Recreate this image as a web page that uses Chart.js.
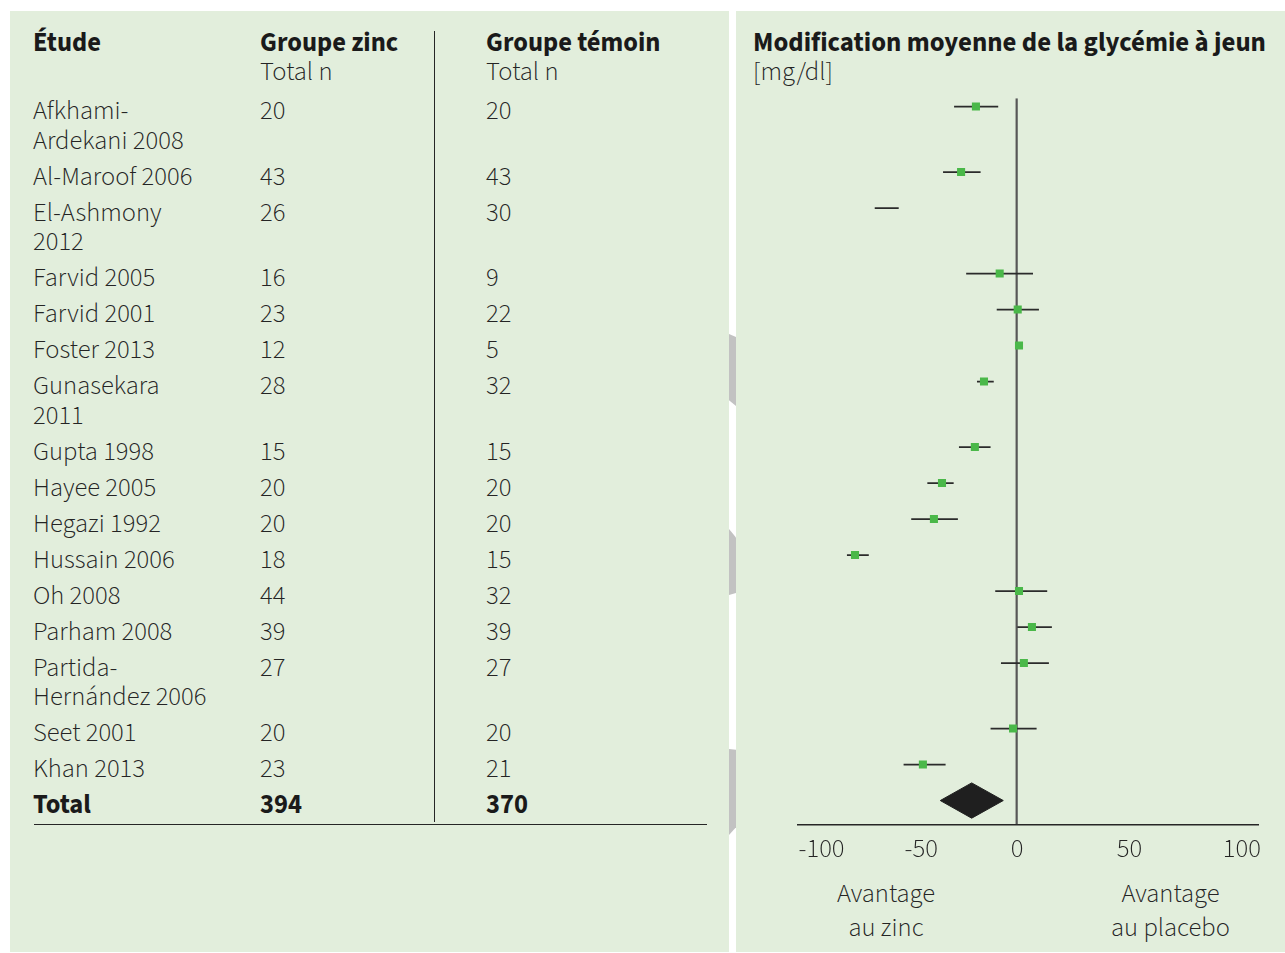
<!DOCTYPE html>
<html lang="fr">
<head>
<meta charset="utf-8">
<title>Zinc et glycémie à jeun</title>
<script src="https://cdn.jsdelivr.net/npm/chart.js@4.4.1/dist/chart.umd.min.js"></script>
<style>
  html, body { margin: 0; padding: 0; background: #ffffff; }
  body { width: 1285px; height: 953px; position: relative; overflow: hidden;
         font-family: 'Source Sans 3', 'Lato', sans-serif; color: #242424; }
  .panel { position: absolute; background: #e2eedc; }
  .txt { position: absolute; white-space: pre; font-size: 26.5px; line-height: 29.5px; font-weight: 300; }
  .b { font-weight: 700; color: #1a1a1a; }
  .rule { position: absolute; background: #262626; }
  .edge { position: absolute; background: #c2c2c2; }
  #plot { position: absolute; left: 736px; top: 0; }
</style>
</head>
<body>
<div class="panel" style="left:10px; top:11px; width:718.5px; height:941px;"></div>
<div class="panel" style="left:736px; top:11px; width:549px; height:941px;"></div>

<!-- page-edge tabs showing through the gutter -->
<div class="edge" style="left:729px; top:334px; width:7px; height:72px; clip-path: polygon(0 0, 100% 4%, 100% 100%, 0 92%);"></div>
<div class="edge" style="left:729px; top:529px; width:7px; height:66px; clip-path: polygon(0 0, 100% 13%, 100% 97%, 0 100%);"></div>
<div class="edge" style="left:729px; top:749px; width:7px; height:86px; clip-path: polygon(0 0, 100% 1%, 100% 91%, 0 100%);"></div>

<div id="table"></div>
<canvas id="plot" width="549" height="953"></canvas>

<script>
// ---- Data -------------------------------------------------------------
const studyLabels = [
  ['Afkhami-', 'Ardekani 2008'],
  ['Al-Maroof 2006'],
  ['El-Ashmony', '2012'],
  ['Farvid 2005'],
  ['Farvid 2001'],
  ['Foster 2013'],
  ['Gunasekara', '2011'],
  ['Gupta 1998'],
  ['Hayee 2005'],
  ['Hegazi 1992'],
  ['Hussain 2006'],
  ['Oh 2008'],
  ['Parham 2008'],
  ['Partida-', 'Hernández 2006'],
  ['Seet 2001'],
  ['Khan 2013']
];
const zincN    = [20, 43, 26, 16, 23, 12, 28, 15, 20, 20, 18, 44, 39, 27, 20, 23];
const controlN = [20, 43, 30,  9, 22,  5, 32, 15, 20, 20, 15, 32, 39, 27, 20, 21];

// mean difference in fasting glucose (mg/dl) with 95 % CI; null = no point estimate drawn
const meanDiff = [-19.2, -26.2, null, -8.0, 0.5, 1.1, -15.4, -19.7, -35.2, -39.0, -76.2, 1.1, 7.2, 3.4, -1.7, -44.2];
const ciLow    = [-29.5, -34.7, -66.9, -23.8, -9.4, -0.5, -18.7, -27.2, -42.1, -49.7, -80.0, -10.1, 0.3, -7.4, -12.3, -53.3];
const ciHigh   = [ -8.7, -17.0, -55.6,   7.7, 10.5,  2.7, -10.8, -12.3, -29.7, -27.7, -69.7, 14.4, 16.6, 15.2,  9.4, -33.5];

const pooledMean = -21.2;
const pooledLow  = -36.0;
const pooledHigh = -6.3;

const xTicks = [-100, -50, 0, 50, 100];

const headers = {
  study: 'Étude',
  zinc: ['Groupe zinc', 'Total n'],
  control: ['Groupe témoin', 'Total n'],
  plot: ['Modification moyenne de la glycémie à jeun', '[mg/dl]'],
  totalLabel: 'Total',
  favourLeft: ['Avantage', 'au zinc'],
  favourRight: ['Avantage', 'au placebo']
};

// ---- Row layout (shared by the table and the plot) ---------------------
const ROW = 36;          // pitch between rows, px
const WRAP = 29.5;       // pitch between wrapped lines inside a row, px
const FIRST_TOP = 97.3;  // top of the first table row box, px
const rowSlot = [];      // vertical position of each row in row units
let extra = 0;
studyLabels.forEach((lines, i) => {
  rowSlot.push(i + extra * WRAP / ROW);
  extra += lines.length - 1;
});
const totalSlot = studyLabels.length + extra * WRAP / ROW;

// ---- Table ------------------------------------------------------------
const COL = { study: 33, zinc: 260, control: 486 };
const table = document.getElementById('table');
function addText(x, y, lines, cls, align) {
  const d = document.createElement('div');
  d.className = 'txt' + (cls ? ' ' + cls : '');
  d.style.left = x + 'px';
  d.style.top = y + 'px';
  if (align === 'center') { d.style.transform = 'translateX(-50%)'; d.style.textAlign = 'center'; }
  lines.forEach((ln, k) => {
    const s = document.createElement('div');
    s.textContent = ln;
    if (k === 0 && cls === 'b-first') { s.className = 'b'; }
    d.appendChild(s);
  });
  table.appendChild(d);
  return d;
}
const HEAD_TOP = 28.5;
addText(COL.study, HEAD_TOP, [headers.study], 'b');
addText(COL.zinc, HEAD_TOP, headers.zinc, 'b-first');
addText(COL.control, HEAD_TOP, headers.control, 'b-first');
const plotHead = addText(753, HEAD_TOP, headers.plot, 'b-first');
plotHead.firstChild.style.fontSize = '26.8px';

studyLabels.forEach((lines, i) => {
  const top = FIRST_TOP + rowSlot[i] * ROW;
  addText(COL.study, top, lines);
  addText(COL.zinc, top, [String(zincN[i])]);
  addText(COL.control, top, [String(controlN[i])]);
});
const totalTop = FIRST_TOP + totalSlot * ROW;
const sum = a => a.reduce((s, v) => s + v, 0);
addText(COL.study, totalTop, [headers.totalLabel], 'b');
addText(COL.zinc, totalTop, [String(sum(zincN))], 'b');
addText(COL.control, totalTop, [String(sum(controlN))], 'b');

// column divider and closing rule
const divider = document.createElement('div');
divider.className = 'rule';
Object.assign(divider.style, { left: '434px', top: '31px', width: '1.2px', height: '791px' });
table.appendChild(divider);
const closing = document.createElement('div');
closing.className = 'rule';
Object.assign(closing.style, { left: '33.5px', top: '823.5px', width: '673px', height: '1.6px' });
table.appendChild(closing);

// favour labels under the axis
const fl = addText(886, 876.5, headers.favourLeft, '', 'center');
fl.style.lineHeight = '34px';
const fr = addText(1170.5, 876.5, headers.favourRight, '', 'center');
fr.style.lineHeight = '34px';

// ---- Forest plot ----------------------------------------------------------
const MARK_OFFSET = -0.23;    // first row sits this far below the plot top, in row units
const yMin = MARK_OFFSET;
const yMax = totalSlot + 0.66;
const DIAMOND_HALF = 0.49;    // half height of the pooled diamond, row units

const datasets = [];

// zero reference line
datasets.push({
  data: [{ x: 0, y: yMin }, { x: 0, y: yMax }],
  showLine: true, borderColor: '#575757', borderWidth: 2.2,
  pointRadius: 0, order: 3
});

// confidence intervals
studyLabels.forEach((_, i) => {
  datasets.push({
    data: [{ x: ciLow[i], y: rowSlot[i] }, { x: ciHigh[i], y: rowSlot[i] }],
    showLine: true, borderColor: '#2b2b2b', borderWidth: 1.7,
    pointRadius: 0, order: 2
  });
});

// point estimates
datasets.push({
  data: meanDiff.map((v, i) => (v === null ? null : { x: v, y: rowSlot[i] })).filter(Boolean),
  pointStyle: 'rect', pointRadius: 5.7, pointHoverRadius: 5.7,
  backgroundColor: '#4ab849', borderWidth: 0, order: 1
});

// pooled estimate diamond
datasets.push({
  data: [
    { x: pooledLow, y: totalSlot },
    { x: pooledMean, y: totalSlot - DIAMOND_HALF },
    { x: pooledHigh, y: totalSlot },
    { x: pooledMean, y: totalSlot + DIAMOND_HALF },
    { x: pooledLow, y: totalSlot }
  ],
  showLine: true, fill: 'shape', tension: 0,
  borderColor: '#1f1f1f', backgroundColor: '#1f1f1f', borderWidth: 1,
  pointRadius: 0, order: 1
});

new Chart(document.getElementById('plot'), {
  type: 'scatter',
  data: { datasets },
  options: {
    responsive: false,
    animation: false,
    events: [],
    layout: { padding: { left: 61.3, right: 26.7, top: 98.3, bottom: 68.7 } },
    plugins: { legend: { display: false }, tooltip: { enabled: false } },
    scales: {
      x: {
        type: 'linear',
        min: -103.4,
        max: 113.9,
        grid: { display: false },
        border: { display: true, color: '#262626', width: 1.6 },
        afterBuildTicks: s => { s.ticks = xTicks.map(v => ({ value: v })); },
        afterFit: s => { s.height = 60; },
        ticks: {
          autoSkip: false, maxRotation: 0, padding: 3,
          align: 'start', labelOffset: -6,
          color: '#242424',
          font: { family: "'Source Sans 3', Lato, sans-serif", size: 26.5, weight: 300 }
        }
      },
      y: {
        type: 'linear',
        reverse: true,
        min: yMin,
        max: yMax,
        display: false
      }
    }
  }
});
</script>
</body>
</html>
